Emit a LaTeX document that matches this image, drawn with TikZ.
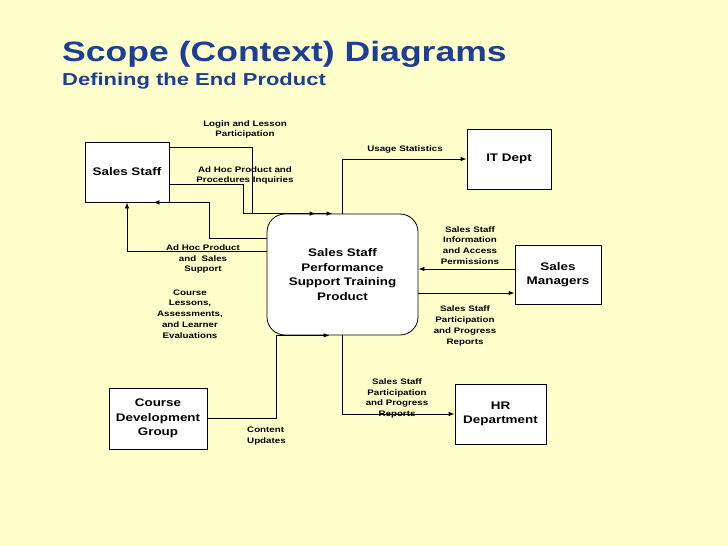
\documentclass[tikz,border=0pt]{standalone}
\usepackage{fontspec}
\setmainfont{Liberation Sans}[FakeStretch=1.22]
\newfontfamily\titlefont{Liberation Sans}[FakeStretch=1.27]
\usepackage{xcolor}
\usepackage{tikz}
\usetikzlibrary{arrows.meta, positioning}
\definecolor{slideBg}{HTML}{FFFFCC}
\definecolor{titleBlue}{RGB}{28,63,148}
\tikzset{
    entity/.style={rectangle, draw, fill=white, line width=0.8pt, inner sep=0pt, align=center, font=\fontsize{11}{14.5}\selectfont\bfseries},
    product/.style={entity, rounded corners=18pt},
    flowLabel/.style={align=center, inner sep=0pt, font=\fontsize{8}{10.8}\selectfont\bfseries},
    line/.style={draw, line width=0.8pt, -{Latex[length=6pt, width=4.5pt]}}
}

\begin{document}
\begin{tikzpicture}[x=1pt, y=-1pt]
    \fill [slideBg] (0,0) rectangle (728,546);
    \useasboundingbox (0,0) rectangle (728,546);

    % Title
    \node [anchor=base west, inner sep=0pt, text=titleBlue, font=\titlefont\fontsize{28}{32}\selectfont\bfseries] (title) at (62,61) {Scope (Context) Diagrams};
    \node [anchor=base west, inner sep=0pt, text=titleBlue, font=\titlefont\fontsize{17.3}{20}\selectfont\bfseries] (subtitle) at (62,85) {Defining the End Product};

    % Nodes
    \node [product, minimum width=151pt, minimum height=121pt] (prod) at (342.5,274.5) {Sales Staff\\Performance\\Support Training\\Product};
    \node [entity, minimum width=84pt, minimum height=60pt] (staff) at (127,172) {Sales Staff};
    \node [entity, minimum width=84pt, minimum height=60pt] (itdept) at (509,159) {IT Dept};
    \node [entity, minimum width=86pt, minimum height=59pt] (managers) at (558,274.5) {Sales\\Managers};
    \node [entity, minimum width=98pt, minimum height=61pt] (course) at (158,418.5) {Course\\Development\\Group};
    \node [entity, minimum width=91pt, minimum height=60pt] (hr) at (500.5,414) {HR\\Department};

    % Labels
    \node [flowLabel] (loginLbl) at (245,129.5) {Login and Lesson\\Participation};
    \node [flowLabel] (inquiryLbl) at (245,175.5) {Ad Hoc Product and\\Procedures Inquiries};
    \node [flowLabel] (usageLbl) at (405,149) {Usage Statistics};
    \node [flowLabel] (supportLbl) at (203,259) {Ad Hoc Product\\and~ Sales\\Support};
    \node [flowLabel] (lessonLbl) at (190,314) {Course\\Lessons,\\Assessments,\\and Learner\\Evaluations};
    \node [flowLabel, anchor=west, align=left] (contentLbl) at (247,436) {Content\\Updates};
    \node [flowLabel] (accessLbl) at (470,245.5) {Sales Staff\\Information\\and Access\\Permissions};
    \node [flowLabel] (progressLbl) at (465,326) {Sales Staff\\Participation\\and Progress\\Reports};
    \node [flowLabel] (hrLbl) at (397,398.5) {Sales Staff\\Participation\\and Progress\\Reports};

    % Paths into the product
    \draw [line] ([yshift=-6pt]staff.north east) -| ([xshift=-90.5pt]prod.north) -- ([xshift=-10pt]prod.north);
    \draw [line] ([yshift=18pt]staff.south east) -| ([xshift=-99.5pt]prod.north) -- ([xshift=-27pt]prod.north);
    \draw [line] (course.east) -| ([xshift=-66.5pt]prod.south) -- ([xshift=-13pt]prod.south);
    \draw [line] ([yshift=5.5pt]managers.west) -- ([yshift=5.5pt]prod.east);

    % Paths out of the product
    \draw [line] (prod.north) |- (itdept.west);
    \draw [line] ([yshift=23.5pt]prod.west) -| (staff.south);
    \draw [line] ([yshift=36.5pt]prod.west) -| ([xshift=40pt]staff.south east) -- ([xshift=-16pt]staff.south east);
    \draw [line] ([yshift=-18.5pt]prod.east) -- ([yshift=-18.5pt]managers.west);
    \draw [line] (prod.south) |- (hr.west);
\end{tikzpicture}
\end{document}
